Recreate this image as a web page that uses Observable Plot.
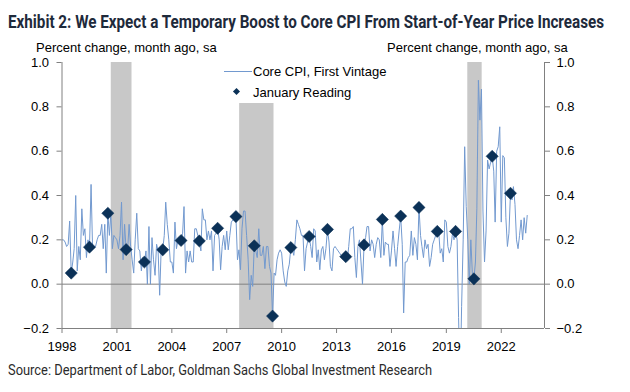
<!DOCTYPE html>
<html><head><meta charset="utf-8">
<script src="https://cdn.jsdelivr.net/npm/d3@7"></script>
<script src="https://cdn.jsdelivr.net/npm/@observablehq/plot@0.6"></script>
<style>
body{margin:0;background:#fff;}
#wrap{position:relative;width:630px;height:392px;overflow:hidden;font-family:"Liberation Sans",Arial,sans-serif;}
#wrap svg{position:absolute;left:0;top:0;}
#title{position:absolute;left:8px;top:13px;white-space:nowrap;font-family:Roboto,"Liberation Sans",sans-serif;font-weight:bold;font-size:18px;line-height:18px;color:#1e2a3b;transform-origin:0 0;}
.ytitle{position:absolute;top:41px;font-size:13px;line-height:13px;white-space:nowrap;color:#000;}
#source{position:absolute;left:8px;top:363px;white-space:nowrap;font-family:Roboto,"Liberation Sans",sans-serif;font-size:14px;line-height:14px;color:#2b2b2b;transform-origin:0 0;}
#legend{position:absolute;left:222px;top:62px;width:172px;height:41px;background:#fff;font-size:13px;color:#000;}
#legend .row{position:absolute;left:31px;white-space:nowrap;line-height:13px;}
#legend .ln{position:absolute;left:2px;top:9px;width:28px;border-top:1px solid #7299cf;}
#legend .dm{position:absolute;left:12px;top:27px;width:5px;height:5px;background:#0b3157;transform:rotate(45deg);}
</style></head>
<body>
<div id="wrap">
  <div id="title">Exhibit 2: We Expect a Temporary Boost to Core CPI From Start-of-Year Price Increases</div>
  <div class="ytitle" style="left:36px">Percent change, month ago, sa</div>
  <div class="ytitle" style="left:387px">Percent change, month ago, sa</div>
  <div id="source">Source: Department of Labor, Goldman Sachs Global Investment Research</div>
</div>
<script>
// Monthly core CPI, first vintage (% m/m, sa), starting July 1998
const cpiStart = [1998, 6]; // year, zero-based month
const cpiValues = [
  // 1998 Jul-Dec
  .20, .20, .19, .17, .18, .285,
  // 1999
  .05, .10, .16, .40, .06, .17, .11, .34, .22, .25, .12, .20,
  // 2000
  .167, .45, .17, .17, .17, .20, .22, .22, .27, .16, .27, .05,
  // 2001
  .32, .22, .32, .16, .22, .21, .20, .16, .22, .37, .11, .27,
  // 2002
  .156, .16, .27, .17, .11, .05, .20, .32, .16, .15, .06, .12,
  // 2003
  .10, .15, .0, .26, .0, .21, .11, .04, .18, .15, -.05, .155,
  // 2004
  .155, .22, .37, .27, .20, .10, .10, .05, .28, .16, .20, .18,
  // 2005
  .197, .23, .35, .05, .15, .10, .15, .10, .10, .25, .25, .22,
  // 2006
  .195, .15, .34, .29, .29, .20, .24, .20, .24, .06, .22, .23,
  // 2007
  .252, .20, .065, .17, .22, .155, .24, .155, .22, .28, .29, .29,
  // 2008
  .305, .11, .155, .065, .25, .33, .33, .22, .11, -.07, .04, -.01,
  // 2009
  .173, .15, .12, .25, .13, .13, .17, .07, .17, .17, .08, .05,
  // 2010
  -.144, .05, .04, .11, .14, .155, .14, .06, .01, -.01, .06, .09,
  // 2011
  .165, .155, .13, .20, .29, .27, .25, .22, .22, .06, .16, .19,
  // 2012
  .215, .17, .12, .25, .24, .10, .155, .065, .155, .17, .11, .16,
  // 2013
  .247, .19, .08, .06, .16, .17, .16, .15, .14, .13, .125, .14,
  // 2014
  .124, .11, .17, .25, .25, .26, .12, .03, .17, .20, .10, .0,
  // 2015
  .177, .21, .26, .26, .15, .20, .18, .12, .18, .21, .20, .12,
  // 2016
  .292, .13, .19, .18, .18, .08, .15, .24, .16, .08, .17, .24,
  // 2017
  .307, .18, -.13, .10, .10, .12, .13, .24, .13, .21, .18, .11,
  // 2018
  .346, .22, .17, .12, .20, .16, .18, .08, .12, .18, .20, .22,
  // 2019
  .238, .23, .14, .16, .10, .29, .28, .17, .14, .17, .23, .20,
  // 2020
  .238, .20, -.15, -.45, -.10, .20, .62, .35, .20, .0, .20, .05,
  // 2021
  .024, .10, .34, .92, .74, .88, .33, .10, .24, .56, .52, .55,
  // 2022
  .577, .51, .28, .60, .62, .71, .28, .58, .57, .30, .17, .23,
  // 2023
  .41, .38, .44, .36, .20, .16, .22, .29, .20, .30, .23, .31
];
// Shaded periods
const shadeStart = ["2001-03-10", "2008-03-15", "2020-09-01"];
const shadeEnd   = ["2002-04-28", "2010-01-30", "2021-06-15"];
// Axis ticks
const xTickYears = [1998, 2001, 2004, 2007, 2010, 2013, 2016, 2019, 2022];
const yTicks = [-0.2, 0, 0.2, 0.4, 0.6, 0.8, 1.0];
const xDomain = ["1998-07-01", "2024-11-10"];

const cpi = cpiValues.map((v, i) => ({date: new Date(Date.UTC(cpiStart[0], cpiStart[1] + i, 1)), value: v}));
const jan = cpi.filter(d => d.date.getUTCMonth() === 0);
const shades = shadeStart.map((s, i) => ({start: new Date(s), end: new Date(shadeEnd[i])}));
const xTicks = xTickYears.map(y => new Date(Date.UTC(y, 6, 1)));
const xd = xDomain.map(s => new Date(s));

const axisGray = "#808080";
const chart = Plot.plot({
  width: 630, height: 392,
  marginTop: 62, marginBottom: 64, marginLeft: 61.5, marginRight: 86,
  style: {fontFamily: '"Liberation Sans", Arial, sans-serif', fontSize: "13px", background: "transparent", color: "#000"},
  x: {type: "utc", domain: xd},
  y: {domain: [d3.min(yTicks), d3.max(yTicks)]},
  marks: [
    Plot.rect(shades, {x1: "start", x2: "end", fill: "#c8c8c8"}),
    Plot.ruleY([0], {stroke: axisGray}),
    Plot.line(cpi, {x: "date", y: "value", stroke: "#7299cf", strokeWidth: 1, clip: true}),
    Plot.dot(jan, {x: "date", y: "value", symbol: "diamond2", r: 5.5, fill: "#0b3157", stroke: "#0b3157", strokeWidth: 0.5}),
    Plot.ruleY([d3.min(yTicks)], {stroke: axisGray}),
    Plot.ruleX(xd, {stroke: axisGray}),
    Plot.axisY({anchor: "left", ticks: yTicks, tickFormat: d3.format(".1f"), tickSize: 5, tickPadding: 8, stroke: axisGray, fill: "#000", label: null}),
    Plot.axisY({anchor: "right", ticks: yTicks, tickFormat: d3.format(".1f"), tickSize: 5, tickPadding: 7, stroke: axisGray, fill: "#000", label: null}),
    Plot.axisX({anchor: "bottom", ticks: xTicks, tickFormat: d3.utcFormat("%Y"), tickSize: 5, tickPadding: 8, stroke: axisGray, fill: "#000", label: null})
  ]
});
const wrap = document.getElementById("wrap");
wrap.insertBefore(chart, wrap.firstChild);

const legend = document.createElement("div");
legend.id = "legend";
legend.innerHTML = '<div class="ln"></div><div class="row" style="top:3px">Core CPI, First Vintage</div>' +
  '<div class="dm"></div><div class="row" style="top:24px">January Reading</div>';
wrap.appendChild(legend);

function fit(id, w) {
  const el = document.getElementById(id);
  const nat = el.getBoundingClientRect().width;
  el.style.transform = `scaleX(${w / nat})`;
}
fit("title", 596);
fit("source", 424);
</script>
</body></html>
